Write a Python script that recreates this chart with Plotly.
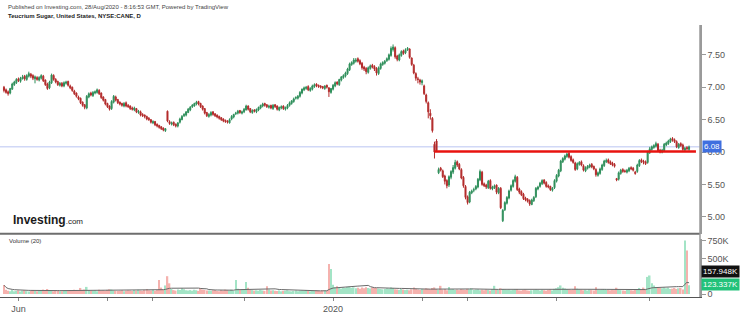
import pandas as pd
import plotly.graph_objects as go

# ---------------- data ----------------
DATE_START = "2019-05-23"
DATE_END = "2020-08-28"

opens = [
    7.00, 6.96, 6.93, 6.91, 6.97, 7.04, 7.07, 7.13, 7.09, 7.13,
    7.17, 7.12, 7.17, 7.20, 7.18, 7.13, 7.15, 7.11, 7.14, 7.17,
    7.11, 7.05, 6.99, 7.07, 7.18, 7.12, 7.09, 7.03, 7.06, 7.02,
    7.06, 7.09, 7.02, 7.00, 6.94, 6.91, 6.85, 6.83, 6.77, 6.73,
    6.68, 6.85, 6.91, 6.87, 6.91, 6.92, 6.95, 6.91, 6.85, 6.81,
    6.75, 6.71, 6.67, 6.77, 6.85, 6.81, 6.77, 6.75, 6.71, 6.76,
    6.72, 6.71, 6.68, 6.65, 6.67, 6.61, 6.62, 6.58, 6.57, 6.55,
    6.52, 6.50, 6.45, 6.47, 6.43, 6.41, 6.39, 6.37, 6.33, 6.63,
    6.47, 6.43, 6.46, 6.43, 6.40, 6.46, 6.50, 6.56, 6.57, 6.61,
    6.65, 6.70, 6.71, 6.74, 6.78, 6.75, 6.71, 6.67, 6.61, 6.55,
    6.57, 6.62, 6.59, 6.57, 6.55, 6.53, 6.51, 6.49, 6.48, 6.45,
    6.51, 6.54, 6.59, 6.60, 6.64, 6.60, 6.62, 6.65, 6.71, 6.67,
    6.61, 6.65, 6.62, 6.65, 6.68, 6.71, 6.75, 6.73, 6.69, 6.72,
    6.67, 6.73, 6.71, 6.65, 6.68, 6.71, 6.66, 6.68, 6.72, 6.75,
    6.78, 6.83, 6.83, 6.86, 6.91, 6.96, 6.98, 7.01, 6.95, 6.97,
    7.01, 7.05, 7.03, 7.02, 7.01, 6.98, 7.03, 6.99, 6.92, 6.97,
    7.02, 7.08, 7.04, 7.11, 7.15, 7.17, 7.21, 7.27, 7.35, 7.37,
    7.40, 7.44, 7.41, 7.37, 7.31, 7.29, 7.23, 7.29, 7.34, 7.32,
    7.29, 7.21, 7.29, 7.35, 7.37, 7.41, 7.43, 7.49, 7.58, 7.61,
    7.48, 7.42, 7.49, 7.56, 7.53, 7.58, 7.59, 7.45, 7.34, 7.21,
    7.13, 7.11, 7.07, 7.02, 6.88, 6.76, 6.60, 6.52, 6.12, 6.17,
    5.68, 5.75, 5.71, 5.63, 5.56, 5.49, 5.61, 5.69, 5.75, 5.85,
    5.81, 5.73, 5.61, 5.47, 5.31, 5.23, 5.37, 5.41, 5.43, 5.46,
    5.57, 5.69, 5.51, 5.49, 5.45, 5.56, 5.43, 5.45, 5.49, 5.37,
    5.44, 4.94, 5.11, 5.21, 5.29, 5.41, 5.47, 5.55, 5.61, 5.43,
    5.39, 5.35, 5.29, 5.27, 5.25, 5.19, 5.25, 5.31, 5.43, 5.47,
    5.51, 5.57, 5.53, 5.48, 5.47, 5.41, 5.45, 5.55, 5.63, 5.71,
    5.85, 5.89, 5.93, 5.98, 5.93, 5.88, 5.83, 5.74, 5.81, 5.85,
    5.79, 5.71, 5.75, 5.77, 5.81, 5.78, 5.73, 5.64, 5.67, 5.73,
    5.79, 5.85, 5.88, 5.85, 5.83, 5.81, 5.59, 5.58, 5.67, 5.73,
    5.71, 5.69, 5.71, 5.76, 5.75, 5.69, 5.70, 5.79, 5.88, 5.86,
    5.85, 5.84, 5.99, 6.04, 6.07, 6.09, 6.12, 6.03, 6.00, 6.02,
    6.11, 6.13, 6.16, 6.21, 6.19, 6.16, 6.07, 6.13, 6.11, 6.03, 6.07, 6.04,
]

highs = [
    7.02, 6.98, 6.95, 6.99, 7.07, 7.10, 7.14, 7.15, 7.16, 7.19,
    7.19, 7.20, 7.24, 7.22, 7.20, 7.18, 7.17, 7.17, 7.20, 7.19,
    7.12, 7.07, 7.10, 7.21, 7.20, 7.14, 7.10, 7.08, 7.08, 7.09,
    7.10, 7.10, 7.04, 7.01, 6.96, 6.92, 6.87, 6.84, 6.78, 6.74,
    6.88, 6.92, 6.93, 6.94, 6.95, 6.98, 6.97, 6.92, 6.86, 6.82,
    6.76, 6.72, 6.80, 6.88, 6.87, 6.82, 6.78, 6.76, 6.77, 6.78,
    6.74, 6.72, 6.70, 6.70, 6.68, 6.65, 6.64, 6.60, 6.58, 6.56,
    6.54, 6.51, 6.49, 6.48, 6.44, 6.42, 6.40, 6.38, 6.37, 6.64,
    6.49, 6.47, 6.47, 6.44, 6.46, 6.53, 6.57, 6.60, 6.63, 6.68,
    6.71, 6.74, 6.76, 6.79, 6.79, 6.76, 6.72, 6.68, 6.62, 6.60,
    6.63, 6.63, 6.60, 6.58, 6.56, 6.54, 6.52, 6.50, 6.49, 6.52,
    6.57, 6.59, 6.62, 6.65, 6.65, 6.64, 6.68, 6.73, 6.72, 6.68,
    6.66, 6.66, 6.67, 6.70, 6.73, 6.76, 6.76, 6.74, 6.73, 6.73,
    6.74, 6.74, 6.72, 6.70, 6.72, 6.72, 6.70, 6.74, 6.78, 6.80,
    6.84, 6.86, 6.88, 6.94, 6.98, 7.01, 7.02, 7.03, 7.00, 7.04,
    7.06, 7.06, 7.04, 7.03, 7.02, 7.03, 7.04, 7.00, 6.99, 7.05,
    7.09, 7.09, 7.13, 7.17, 7.20, 7.24, 7.30, 7.38, 7.40, 7.45,
    7.45, 7.46, 7.43, 7.39, 7.33, 7.31, 7.32, 7.35, 7.36, 7.34,
    7.31, 7.32, 7.38, 7.40, 7.42, 7.46, 7.52, 7.63, 7.66, 7.63,
    7.50, 7.52, 7.57, 7.58, 7.60, 7.62, 7.60, 7.46, 7.36, 7.23,
    7.16, 7.13, 7.12, 7.04, 6.90, 6.78, 6.66, 6.54, 6.16, 6.20,
    5.76, 5.77, 5.73, 5.65, 5.58, 5.64, 5.72, 5.80, 5.88, 5.87,
    5.83, 5.75, 5.63, 5.49, 5.33, 5.40, 5.42, 5.45, 5.49, 5.60,
    5.73, 5.71, 5.53, 5.51, 5.57, 5.58, 5.48, 5.50, 5.50, 5.46,
    5.46, 5.12, 5.24, 5.32, 5.42, 5.50, 5.58, 5.65, 5.63, 5.45,
    5.41, 5.37, 5.31, 5.29, 5.27, 5.28, 5.32, 5.46, 5.48, 5.54,
    5.58, 5.58, 5.55, 5.50, 5.48, 5.46, 5.58, 5.66, 5.74, 5.88,
    5.92, 5.96, 5.99, 6.00, 5.95, 5.90, 5.85, 5.84, 5.86, 5.87,
    5.81, 5.78, 5.80, 5.82, 5.83, 5.79, 5.75, 5.70, 5.76, 5.82,
    5.88, 5.90, 5.90, 5.87, 5.85, 5.83, 5.60, 5.70, 5.74, 5.75,
    5.73, 5.74, 5.77, 5.78, 5.77, 5.71, 5.82, 5.89, 5.90, 5.88,
    5.87, 6.02, 6.08, 6.10, 6.12, 6.16, 6.14, 6.05, 6.05, 6.14,
    6.16, 6.19, 6.22, 6.23, 6.21, 6.18, 6.14, 6.15, 6.13, 6.08, 6.09, 6.10,
]

lows = [
    6.92, 6.90, 6.87, 6.89, 6.96, 7.02, 7.05, 7.08, 7.07, 7.12,
    7.10, 7.10, 7.15, 7.14, 7.11, 7.06, 7.10, 7.09, 7.12, 7.08,
    7.02, 6.96, 6.97, 7.05, 7.10, 7.06, 7.02, 7.01, 7.00, 7.00,
    7.04, 7.01, 6.97, 6.93, 6.88, 6.84, 6.80, 6.74, 6.70, 6.66,
    6.66, 6.83, 6.86, 6.85, 6.89, 6.90, 6.88, 6.82, 6.78, 6.72,
    6.68, 6.64, 6.65, 6.75, 6.78, 6.74, 6.72, 6.70, 6.69, 6.69,
    6.68, 6.65, 6.64, 6.63, 6.60, 6.59, 6.55, 6.54, 6.52, 6.49,
    6.48, 6.44, 6.43, 6.40, 6.38, 6.36, 6.34, 6.32, 6.31, 6.46,
    6.42, 6.41, 6.40, 6.38, 6.38, 6.44, 6.49, 6.54, 6.55, 6.60,
    6.63, 6.68, 6.70, 6.72, 6.72, 6.68, 6.64, 6.58, 6.54, 6.53,
    6.55, 6.56, 6.54, 6.52, 6.50, 6.48, 6.46, 6.45, 6.44, 6.44,
    6.49, 6.52, 6.57, 6.58, 6.59, 6.58, 6.60, 6.64, 6.64, 6.60,
    6.59, 6.61, 6.60, 6.63, 6.66, 6.69, 6.70, 6.68, 6.67, 6.66,
    6.65, 6.68, 6.64, 6.63, 6.66, 6.65, 6.64, 6.66, 6.70, 6.73,
    6.76, 6.81, 6.81, 6.84, 6.89, 6.94, 6.96, 6.94, 6.93, 6.95,
    6.99, 7.00, 6.99, 6.98, 6.97, 6.96, 6.98, 6.85, 6.90, 6.95,
    7.00, 7.03, 7.02, 7.09, 7.13, 7.15, 7.19, 7.25, 7.33, 7.35,
    7.38, 7.38, 7.34, 7.27, 7.25, 7.20, 7.21, 7.27, 7.29, 7.25,
    7.18, 7.19, 7.27, 7.33, 7.35, 7.39, 7.41, 7.47, 7.55, 7.44,
    7.40, 7.40, 7.47, 7.50, 7.51, 7.56, 7.44, 7.33, 7.20, 7.10,
    7.06, 7.04, 7.03, 6.88, 6.75, 6.52, 6.50, 6.30, 5.90, 6.00,
    5.66, 5.70, 5.60, 5.50, 5.44, 5.46, 5.58, 5.66, 5.73, 5.77,
    5.72, 5.58, 5.45, 5.27, 5.19, 5.21, 5.35, 5.38, 5.41, 5.44,
    5.55, 5.48, 5.46, 5.43, 5.43, 5.42, 5.41, 5.43, 5.35, 5.35,
    5.12, 4.92, 5.09, 5.19, 5.27, 5.39, 5.45, 5.53, 5.40, 5.35,
    5.32, 5.26, 5.24, 5.22, 5.17, 5.18, 5.23, 5.29, 5.41, 5.45,
    5.49, 5.50, 5.45, 5.44, 5.40, 5.39, 5.43, 5.53, 5.61, 5.69,
    5.83, 5.87, 5.91, 5.90, 5.85, 5.82, 5.71, 5.72, 5.79, 5.78,
    5.70, 5.69, 5.73, 5.75, 5.75, 5.72, 5.62, 5.62, 5.65, 5.71,
    5.77, 5.83, 5.82, 5.80, 5.78, 5.76, 5.55, 5.56, 5.65, 5.68,
    5.68, 5.67, 5.69, 5.72, 5.70, 5.65, 5.68, 5.77, 5.83, 5.81,
    5.80, 5.82, 5.97, 6.02, 6.05, 6.07, 6.00, 5.98, 5.98, 6.00,
    6.09, 6.11, 6.14, 6.16, 6.14, 6.06, 6.05, 6.08, 6.02, 6.01, 6.03, 6.02,
]

closes = [
    6.95, 6.92, 6.90, 6.98, 7.05, 7.08, 7.12, 7.10, 7.14, 7.16,
    7.13, 7.18, 7.21, 7.17, 7.14, 7.16, 7.12, 7.15, 7.18, 7.10,
    7.04, 6.98, 7.08, 7.19, 7.12, 7.08, 7.04, 7.06, 7.02, 7.07,
    7.08, 7.03, 6.99, 6.95, 6.90, 6.86, 6.82, 6.76, 6.72, 6.69,
    6.86, 6.90, 6.88, 6.92, 6.93, 6.96, 6.90, 6.84, 6.80, 6.74,
    6.70, 6.66, 6.78, 6.86, 6.80, 6.76, 6.74, 6.72, 6.75, 6.71,
    6.70, 6.67, 6.66, 6.68, 6.62, 6.63, 6.57, 6.56, 6.55, 6.51,
    6.50, 6.46, 6.47, 6.42, 6.40, 6.38, 6.36, 6.34, 6.36, 6.48,
    6.44, 6.45, 6.42, 6.40, 6.45, 6.51, 6.55, 6.58, 6.62, 6.66,
    6.69, 6.72, 6.75, 6.77, 6.74, 6.70, 6.66, 6.60, 6.56, 6.58,
    6.61, 6.58, 6.56, 6.54, 6.52, 6.50, 6.48, 6.47, 6.46, 6.50,
    6.55, 6.58, 6.60, 6.63, 6.61, 6.62, 6.66, 6.71, 6.66, 6.62,
    6.64, 6.63, 6.66, 6.69, 6.72, 6.74, 6.72, 6.70, 6.71, 6.68,
    6.72, 6.70, 6.66, 6.69, 6.70, 6.67, 6.69, 6.72, 6.76, 6.79,
    6.82, 6.84, 6.86, 6.92, 6.97, 6.99, 7.00, 6.96, 6.98, 7.02,
    7.04, 7.02, 7.01, 7.00, 6.99, 7.02, 7.00, 6.93, 6.98, 7.03,
    7.07, 7.05, 7.12, 7.16, 7.18, 7.22, 7.28, 7.36, 7.38, 7.42,
    7.42, 7.40, 7.36, 7.30, 7.28, 7.24, 7.30, 7.33, 7.31, 7.28,
    7.22, 7.30, 7.36, 7.38, 7.40, 7.44, 7.50, 7.60, 7.62, 7.47,
    7.43, 7.50, 7.55, 7.52, 7.58, 7.60, 7.46, 7.35, 7.22, 7.14,
    7.12, 7.08, 7.10, 6.90, 6.78, 6.62, 6.56, 6.33, 6.00, 6.02,
    5.73, 5.72, 5.62, 5.55, 5.48, 5.62, 5.70, 5.76, 5.84, 5.80,
    5.74, 5.60, 5.48, 5.30, 5.22, 5.38, 5.40, 5.42, 5.47, 5.58,
    5.70, 5.50, 5.48, 5.46, 5.55, 5.44, 5.46, 5.48, 5.38, 5.44,
    5.14, 5.10, 5.22, 5.30, 5.40, 5.48, 5.56, 5.62, 5.42, 5.38,
    5.34, 5.28, 5.26, 5.24, 5.20, 5.26, 5.30, 5.44, 5.46, 5.52,
    5.56, 5.52, 5.47, 5.46, 5.42, 5.44, 5.56, 5.64, 5.72, 5.86,
    5.90, 5.94, 5.97, 5.92, 5.87, 5.84, 5.73, 5.82, 5.84, 5.80,
    5.72, 5.76, 5.78, 5.80, 5.77, 5.74, 5.65, 5.68, 5.74, 5.80,
    5.86, 5.87, 5.84, 5.82, 5.80, 5.78, 5.57, 5.68, 5.72, 5.70,
    5.70, 5.72, 5.75, 5.74, 5.72, 5.67, 5.80, 5.87, 5.85, 5.84,
    5.82, 6.00, 6.05, 6.08, 6.10, 6.13, 6.02, 6.00, 6.03, 6.12,
    6.14, 6.17, 6.20, 6.18, 6.16, 6.08, 6.12, 6.10, 6.04, 6.06, 6.05, 6.08,
]

# volume in thousands of shares
volume_k = [
    125, 60, 45, 40, 55, 38, 42, 50, 35, 48,
    52, 40, 36, 44, 58, 41, 39, 47, 55, 62,
    48, 70, 55, 43, 38, 46, 52, 40, 37, 44,
    49, 42, 56, 45, 60, 52, 48, 85, 58, 63,
    100, 55, 47, 42, 50, 39, 60, 48, 52, 45,
    58, 66, 62, 50, 44, 41, 47, 53, 40, 45,
    52, 48, 42, 55, 47, 60, 50, 44, 58, 70,
    52, 49, 61, 45, 57, 195, 90, 60, 120, 250,
    150, 70, 55, 48, 62, 58, 80, 66, 52, 49,
    55, 47, 60, 53, 44, 85, 62, 58, 49, 50,
    46, 52, 58, 43, 40, 56, 49, 61, 54, 47,
    60, 44, 195, 75, 58, 66, 60, 170, 88, 62,
    55, 48, 52, 46, 58, 50, 44, 110, 62, 49,
    53, 46, 41, 50, 38, 44, 47, 52, 40, 36,
    42, 48, 39, 45, 50, 44, 56, 41, 38, 47,
    43, 50, 46, 39, 52, 48, 44, 420, 350, 130,
    95, 110, 88, 76, 92, 85, 99, 102, 86, 94,
    80, 88, 75, 90, 82, 96, 84, 78, 92, 88,
    85, 76, 70, 66, 72, 80, 74, 90, 85, 68,
    64, 58, 70, 62, 55, 60, 52, 66, 90, 74,
    62, 58, 71, 66, 80, 75, 68, 84, 92, 70,
    58, 115, 62, 70, 54, 100, 66, 72, 58, 63,
    55, 70, 64, 59, 72, 66, 80, 57, 62, 68,
    54, 60, 52, 63, 58, 49, 70, 115, 60, 56,
    80, 72, 65, 58, 62, 54, 60, 66, 70, 52,
    48, 56, 62, 50, 45, 52, 58, 63, 55, 49,
    60, 52, 47, 58, 64, 50, 72, 80, 95, 120,
    88, 76, 70, 65, 58, 62, 110, 75, 66, 60,
    52, 58, 48, 62, 55, 49, 95, 60, 57, 64,
    70, 66, 58, 52, 60, 55, 88, 62, 54, 50,
    47, 55, 60, 52, 48, 58, 70, 85, 64, 90,
    72, 240, 260, 150, 120, 100, 90, 85, 80, 90,
    80, 90, 70, 75, 85, 70, 80, 85, 65, 750, 610.623, 123.337,
]

x_tick_dates = ["2019-06-03", "2019-08-01", "2019-09-02", "2019-11-01", "2020-01-01",
                "2020-03-02", "2020-04-01", "2020-06-01", "2020-08-03"]
x_tick_text = ["Jun", "", "", "", "2020", "", "", "", ""]
price_ticks = [5.0, 5.5, 6.0, 6.5, 7.0, 7.5]
price_tick_text = ["5.00", "5.50", "6.00", "6.50", "7.00", "7.50"]
vol_ticks = [0, 500, 750]
vol_tick_text = ["0", "500K", "750K"]

LAST_PRICE = 6.08
SUPPORT_LEVEL = 6.01
SUPPORT_START_INDEX = 208
SUPPORT_END = "2020-09-02 08:00"
X_RANGE = ["2019-05-21 02:00", "2020-09-04 07:00"]

# ---------------- figure ----------------
n = len(closes)
assert len(opens) == n and len(highs) == n and len(lows) == n and len(volume_k) == n
dates = pd.bdate_range(DATE_START, DATE_END)
assert len(dates) == n, len(dates)

UP = "#2f8f5b"
DOWN = "#b32b2b"
VUP = "#a3e4c6"
VDOWN = "#f5b2ae"
FONT = "Liberation Sans, Arial, sans-serif"

vol_colors = [VUP if c >= o else VDOWN for o, c in zip(opens, closes)]
vol_ma = pd.Series(volume_k).rolling(20, min_periods=1).mean()

fig = go.Figure()
fig.add_trace(go.Candlestick(
    x=dates, open=opens, high=highs, low=lows, close=closes,
    increasing=dict(line=dict(color=UP, width=1), fillcolor=UP),
    decreasing=dict(line=dict(color=DOWN, width=1), fillcolor=DOWN),
    xaxis="x", yaxis="y", hoverinfo="skip", showlegend=False,
))
fig.add_trace(go.Bar(
    x=dates, y=volume_k, marker=dict(color=vol_colors, line=dict(width=0)),
    xaxis="x2", yaxis="y2", hoverinfo="skip", showlegend=False,
))
fig.add_trace(go.Scatter(
    x=dates, y=vol_ma, mode="lines", line=dict(color="#6a6a6a", width=1),
    xaxis="x2", yaxis="y2", hoverinfo="skip", showlegend=False,
))

rb = [dict(bounds=["sat", "mon"])]
axis_font = dict(family=FONT, size=9, color="#555")

fig.update_layout(
    width=740, height=314,
    margin=dict(l=0, r=40, t=25, b=14),
    paper_bgcolor="white", plot_bgcolor="white",
    font=dict(family=FONT),
    bargap=0.25,
    xaxis=dict(domain=[0, 1], anchor="y", matches="x2", range=X_RANGE, rangebreaks=rb,
               showticklabels=False, showgrid=False, zeroline=False, showline=False,
               ticks="", rangeslider=dict(visible=False)),
    xaxis2=dict(domain=[0, 1], anchor="y2", range=X_RANGE, rangebreaks=rb,
                tickvals=x_tick_dates, ticktext=x_tick_text, tickfont=axis_font,
                ticks="outside", ticklen=3, tickcolor="#888",
                showgrid=False, zeroline=False, showline=True, linecolor="#555", linewidth=1),
    yaxis=dict(domain=[0.2327, 1], anchor="x", side="right", range=[4.74, 7.96],
               tickvals=price_ticks, ticktext=price_tick_text, tickfont=axis_font,
               ticks="outside", ticklen=4, tickcolor="#999",
               showgrid=False, zeroline=False, showline=True, linecolor="#9a9a9a", linewidth=1.5),
    yaxis2=dict(domain=[0, 0.215], anchor="x2", side="right", range=[-42, 779],
                tickvals=vol_ticks, ticktext=vol_tick_text, tickfont=axis_font,
                ticks="outside", ticklen=4, tickcolor="#999",
                showgrid=False, zeroline=False, showline=True, linecolor="#9a9a9a", linewidth=1.5),
)

shapes = [
    # last-price guide line
    dict(type="line", xref="paper", yref="y", x0=0, x1=1, y0=LAST_PRICE, y1=LAST_PRICE,
         line=dict(color="#b9c4f2", width=1), layer="below"),
    # support line
    dict(type="line", xref="x", yref="y", x0=dates[SUPPORT_START_INDEX], x1=SUPPORT_END,
         y0=SUPPORT_LEVEL, y1=SUPPORT_LEVEL, line=dict(color="#e8130f", width=2.5)),
    # pane separator
    dict(type="line", xref="paper", yref="paper", x0=0, x1=1, y0=0.2327, y1=0.2327,
         line=dict(color="#6e6e6e", width=2)),
    # continuous right axis line
    dict(type="line", xref="paper", yref="paper", x0=1, x1=1, y0=0, y1=1,
         line=dict(color="#9a9a9a", width=1.5)),
]
fig.update_layout(shapes=shapes)

ann = [
    dict(text="Published on Investing.com, 28/Aug/2020 - 8:16:53 GMT, Powered by TradingView",
         xref="paper", yref="paper", x=0.009, y=(300 - 7) / 275, xanchor="left", yanchor="middle",
         showarrow=False, font=dict(family=FONT, size=6, color="#444")),
    dict(text="<b>Teucrium Sugar, United States, NYSE:CANE, D</b>",
         xref="paper", yref="paper", x=0.009, y=(300 - 16) / 275, xanchor="left", yanchor="middle",
         showarrow=False, font=dict(family=FONT, size=6, color="#222")),
    dict(text="Volume (20)", xref="paper", yref="paper", x=0.010, y=(300 - 243) / 275,
         xanchor="left", yanchor="middle", showarrow=False,
         font=dict(family=FONT, size=6, color="#333")),
    dict(text="<b>Investing</b><span style='font-size:8px'>.com</span>",
         xref="paper", yref="paper", x=0.016, y=(300 - 222) / 275,
         xanchor="left", yanchor="middle", showarrow=False,
         font=dict(family=FONT, size=12, color="#1b1b1b")),
    dict(text=f"{LAST_PRICE:.2f}", xref="paper", yref="y", x=1.003, y=LAST_PRICE,
         xanchor="left", yanchor="middle", showarrow=False, bgcolor="#3f6fdf",
         borderpad=1, font=dict(family=FONT, size=8, color="white")),
    dict(text=f"{vol_ma.iloc[-1]:.3f}K", xref="paper", yref="y2", x=1.001, y=vol_ma.iloc[-1],
         yshift=11, xanchor="left", yanchor="middle", showarrow=False, bgcolor="#111",
         borderpad=1, font=dict(family=FONT, size=8, color="white")),
    dict(text=f"{volume_k[-1]:.3f}K", xref="paper", yref="y2", x=1.001, y=volume_k[-1],
         yshift=1, xanchor="left", yanchor="middle", showarrow=False, bgcolor="#22c27a",
         borderpad=1, font=dict(family=FONT, size=8, color="white")),
]
fig.update_layout(annotations=ann)

fig.write_html("out.html")
